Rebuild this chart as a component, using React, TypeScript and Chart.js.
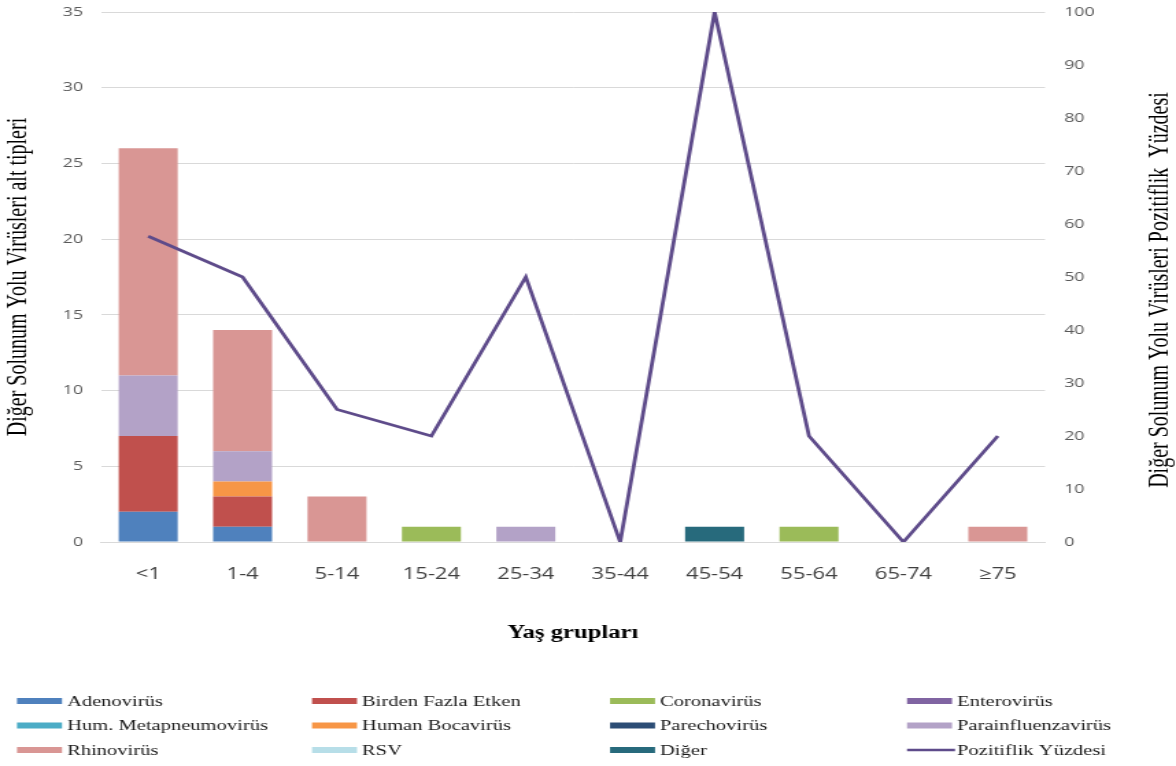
import React, { useEffect, useRef } from "react";
import { Chart, registerables } from "chart.js";

Chart.register(...registerables);

// ---------- data ----------
const categories = ["<1", "1-4", "5-14", "15-24", "25-34", "35-44", "45-54", "55-64", "65-74", "≥75"];

const adenovirus = [2, 1, 0, 0, 0, 0, 0, 0, 0, 0];
const birdenFazlaEtken = [5, 2, 0, 0, 0, 0, 0, 0, 0, 0];
const coronavirus = [0, 0, 0, 1, 0, 0, 0, 1, 0, 0];
const enterovirus = [0, 0, 0, 0, 0, 0, 0, 0, 0, 0];
const humMetapneumovirus = [0, 0, 0, 0, 0, 0, 0, 0, 0, 0];
const humanBocavirus = [0, 1, 0, 0, 0, 0, 0, 0, 0, 0];
const parechovirus = [0, 0, 0, 0, 0, 0, 0, 0, 0, 0];
const parainfluenzavirus = [4, 2, 0, 0, 1, 0, 0, 0, 0, 0];
const rhinovirus = [15, 8, 3, 0, 0, 0, 0, 0, 0, 1];
const rsv = [0, 0, 0, 0, 0, 0, 0, 0, 0, 0];
const diger = [0, 0, 0, 0, 0, 0, 1, 0, 0, 0];
const pozitiflikYuzdesi = [57.7, 50, 25, 20, 50, 0, 100, 20, 0, 20];

const leftAxisTitle = "Diğer Solunum Yolu Virüsleri alt tipleri";
const rightAxisTitle = "Diğer Solunum Yolu Virüsleri Pozitiflik  Yüzdesi";
const xAxisTitle = "Yaş grupları";

// ---------- layout (internal canvas is stretched horizontally) ----------
const CSS_W = 1176;
const CSS_H = 766;
const INT_W = 858;
const S = CSS_W / INT_W;

const serif = "'Liberation Serif', 'Times New Roman', serif";
const sans = "'Open Sans', 'DejaVu Sans', sans-serif";

const extrasPlugin = {
  id: "extras",
  afterDraw(chart: any) {
    const ctx = chart.ctx as CanvasRenderingContext2D;
    // right axis title (reads bottom to top)
    ctx.save();
    ctx.translate(1160 / S, 290);
    ctx.rotate(-Math.PI / 2);
    ctx.font = `20px ${serif}`;
    ctx.fillStyle = "#000000";
    ctx.textAlign = "center";
    ctx.textBaseline = "middle";
    ctx.fillText(rightAxisTitle, 0, 0);
    ctx.restore();

    // legend: 4 columns x 3 rows
    const colX = [67, 362, 660, 957].map((v) => v / S);
    const rowY = [701, 725.5, 750];
    const swLen = 45 / S;
    const swGap = 5 / S;
    ctx.save();
    ctx.font = `15px ${serif}`;
    ctx.textAlign = "left";
    ctx.textBaseline = "middle";
    chart.data.datasets.forEach((ds: any, i: number) => {
      const c = i % 4;
      const r = Math.floor(i / 4);
      const tx = colX[c];
      const ty = rowY[r];
      const sx = tx - swGap - swLen;
      if (ds.type === "line") {
        ctx.strokeStyle = ds.borderColor;
        ctx.lineWidth = 2.5;
        ctx.beginPath();
        ctx.moveTo(sx, ty);
        ctx.lineTo(sx + swLen + swGap * 0.6, ty);
        ctx.stroke();
      } else {
        ctx.fillStyle = ds.backgroundColor;
        ctx.fillRect(sx, ty - 3, swLen, 6);
      }
      ctx.fillStyle = "#1a1a1a";
      ctx.fillText(ds.label, tx, ty + 1);
    });
    ctx.restore();
  },
};

function bar(label: string, data: number[], color: string) {
  return {
    type: "bar" as const,
    label,
    data,
    backgroundColor: color,
    borderWidth: 0,
    stack: "s",
    yAxisID: "y",
    order: 1,
    barPercentage: 0.625,
    categoryPercentage: 1,
  };
}

export default function App() {
  const ref = useRef<HTMLCanvasElement | null>(null);

  useEffect(() => {
    document.body.style.margin = "0";
    const canvas = ref.current;
    if (!canvas) return;

    const chart = new Chart(canvas, {
      type: "bar",
      data: {
        labels: categories,
        datasets: [
          bar("Adenovirüs", adenovirus, "#4F81BD"),
          bar("Birden Fazla Etken", birdenFazlaEtken, "#C0504D"),
          bar("Coronavirüs", coronavirus, "#9BBB59"),
          bar("Enterovirüs", enterovirus, "#8064A2"),
          bar("Hum. Metapneumovirüs", humMetapneumovirus, "#4BACC6"),
          bar("Human Bocavirüs", humanBocavirus, "#F79646"),
          bar("Parechovirüs", parechovirus, "#2C4D75"),
          bar("Parainfluenzavirüs", parainfluenzavirus, "#B3A2C7"),
          bar("Rhinovirüs", rhinovirus, "#D99694"),
          bar("RSV", rsv, "#B7DEE8"),
          bar("Diğer", diger, "#276A7C"),
          {
            type: "line" as const,
            label: "Pozitiflik Yüzdesi",
            data: pozitiflikYuzdesi,
            borderColor: "#5E4B8A",
            backgroundColor: "#5E4B8A",
            borderWidth: 2.8,
            pointRadius: 0,
            pointHoverRadius: 0,
            tension: 0,
            yAxisID: "y1",
            order: 0,
          },
        ] as any,
      },
      options: {
        responsive: false,
        animation: false,
        devicePixelRatio: 1,
        layout: { padding: { top: 12, bottom: 766 - 542 - 105.8, left: 0, right: 0 } },
        plugins: {
          legend: { display: false },
          tooltip: { enabled: false },
        },
        scales: {
          x: {
            stacked: true,
            offset: true,
            grid: { display: false, drawTicks: false },
            border: { display: true, color: "#D9D9D9", width: 1 },
            ticks: {
              padding: 23,
              color: "#404040",
              font: { family: sans, size: 16 },
              maxRotation: 0,
              autoSkip: false,
            },
            title: {
              display: true,
              text: xAxisTitle,
              color: "#000000",
              font: { family: serif, size: 18, weight: "bold" },
              padding: { top: 4, bottom: 4 },
            },
            afterFit(scale: any) {
              scale.height = 105.8;
            },
          },
          y: {
            stacked: true,
            position: "left",
            min: 0,
            max: 35,
            grid: { color: "#D9D9D9", drawTicks: false, lineWidth: 1 },
            border: { display: false },
            ticks: {
              stepSize: 5,
              padding: 13,
              color: "#595959",
              font: { family: sans, size: 13 },
            },
            title: {
              display: true,
              text: leftAxisTitle,
              color: "#000000",
              font: { family: serif, size: 20 },
              padding: { top: 2, bottom: 0 },
            },
            afterFit(scale: any) {
              scale.width = 101 / S;
              scale.paddingTop = 0;
              scale.paddingBottom = 0;
            },
          },
          y1: {
            position: "right",
            min: 0,
            max: 100,
            grid: { drawOnChartArea: false, drawTicks: false },
            border: { display: false },
            ticks: {
              stepSize: 10,
              padding: 14,
              color: "#595959",
              font: { family: sans, size: 13 },
            },
            afterFit(scale: any) {
              scale.width = INT_W - 1045 / S;
              scale.paddingTop = 0;
              scale.paddingBottom = 0;
            },
          },
        },
      } as any,
      plugins: [extrasPlugin],
    });

    return () => chart.destroy();
  }, []);

  return (
    <div style={{ width: CSS_W, height: CSS_H, position: "relative", background: "#ffffff" }}>
      <canvas
        ref={ref}
        width={INT_W}
        height={CSS_H}
        style={{ width: `${CSS_W}px`, height: `${CSS_H}px`, display: "block" }}
      />
    </div>
  );
}
